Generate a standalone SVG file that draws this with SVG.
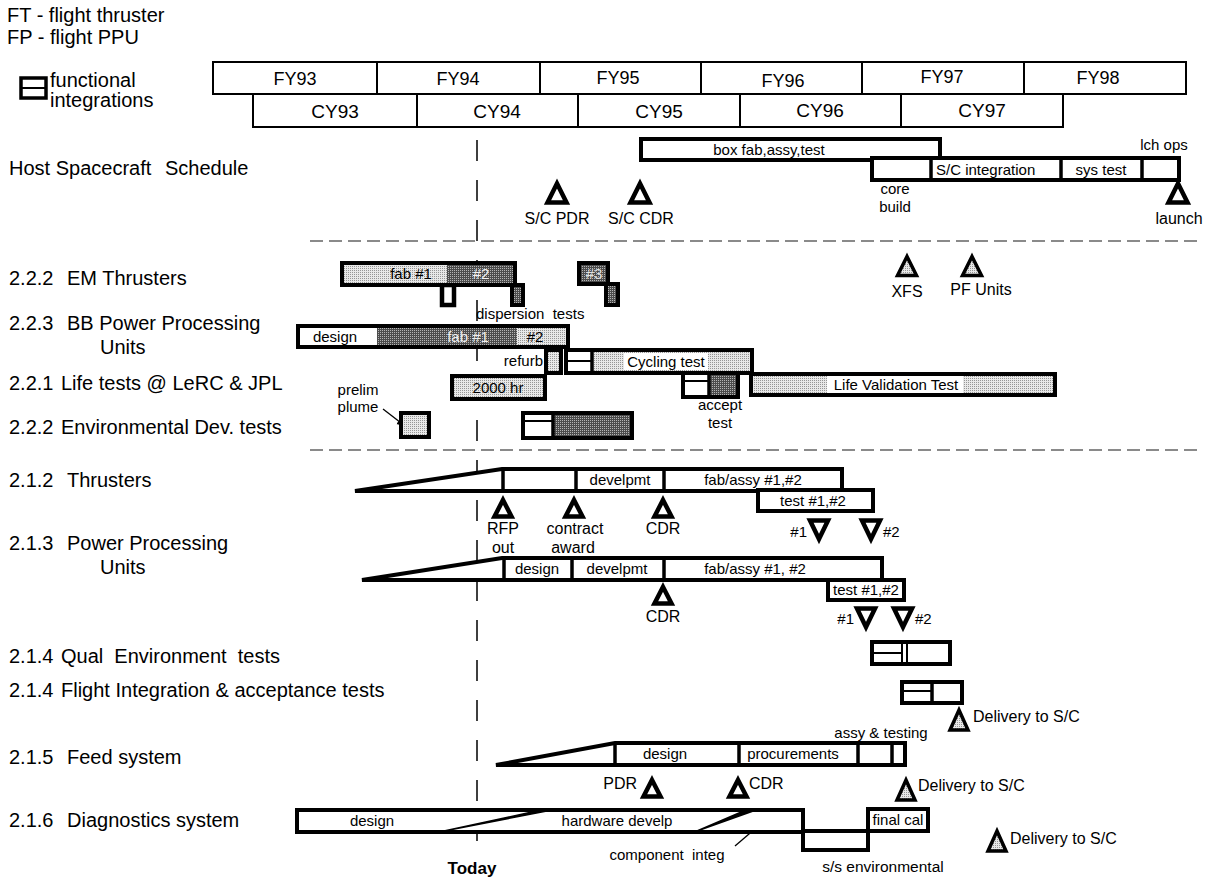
<svg xmlns="http://www.w3.org/2000/svg" width="1205" height="879" viewBox="0 0 1205 879">
<style>
text{font-family:"Liberation Sans",Arial,Helvetica,sans-serif;fill:#000}
.sec{font-size:20px}
.fy{font-size:18px;text-anchor:middle}
.cy{font-size:19px;text-anchor:middle}
.s{font-size:15px}
.n{font-size:16px}
.m{text-anchor:middle}
.e{text-anchor:end}
.yr{fill:#fff;stroke:#000;stroke-width:2}
.bx{fill:#fff;stroke:#000;stroke-width:4;stroke-linejoin:miter}
.ol{fill:none;stroke:#000;stroke-width:4}
.dv{stroke:#000;stroke-width:3.5}
.ln{stroke:#000;stroke-width:2}
.lt{fill:url(#lite)}
.dk{fill:url(#dark)}
.sep{stroke:#8a8a8a;stroke-width:2;stroke-dasharray:13 6}
.today{stroke:#000;stroke-width:1.5;stroke-dasharray:21 19}
.tri{fill:#fff;stroke:#000;stroke-width:4.5}
.trig{fill:url(#lite);stroke:#000;stroke-width:3.5}
.arw{stroke:#000;stroke-width:1.3;fill:none;marker-end:url(#ah)}
.slant{fill:#000;stroke:#000;stroke-width:1.5;stroke-linejoin:round}
</style>
<defs>
  <pattern id="lite" width="2" height="2" patternUnits="userSpaceOnUse">
    <rect width="2" height="2" fill="#e8e8e8"/>
    <rect width="1" height="1" fill="#959595"/>
  </pattern>
  <pattern id="dark" width="2" height="2" patternUnits="userSpaceOnUse">
    <rect width="2" height="2" fill="#4c4c4c"/>
    <rect width="1" height="1" fill="#b4b4b4"/>
  </pattern>
  <!-- milestone markers -->
  <path id="upL" d="M0,-9.5 L9.5,9.5 L-9.5,9.5 Z"/>
  <path id="up" d="M0,-8 L8.5,8.5 L-8.5,8.5 Z"/>
  <path id="dn" d="M0,10 L9,-8.5 L-9,-8.5 Z"/>
  <path id="upD" d="M0,-10 L9,10 L-9,10 Z"/>
  <marker id="ah" viewBox="0 0 10 10" refX="9" refY="5" markerWidth="9" markerHeight="9" orient="auto" markerUnits="userSpaceOnUse">
    <path d="M0,1 L10,5 L0,9 Z" fill="#000"/>
  </marker>
</defs>

<!-- legend -->
<g id="legend">
  <text class="sec" x="7" y="22">FT - flight thruster</text>
  <text class="sec" x="7" y="44">FP - flight PPU</text>
  <rect x="21" y="78" width="25" height="20" fill="#fff" stroke="#000" stroke-width="3.5"/>
  <line class="ln" x1="21" y1="88" x2="46" y2="88"/>
  <text class="sec" x="50" y="87">functional</text>
  <text class="sec" x="50" y="107">integrations</text>
</g>

<!-- fiscal / calendar year header -->
<g id="fiscal-years">
  <rect class="yr" x="213" y="62" width="164" height="32"/>
  <rect class="yr" x="377" y="62" width="163" height="32"/>
  <rect class="yr" x="540" y="62" width="161" height="32"/>
  <rect class="yr" x="701" y="62" width="161" height="32"/>
  <rect class="yr" x="862" y="62" width="162" height="32"/>
  <rect class="yr" x="1024" y="62" width="162" height="32"/>
  <text class="fy" x="295" y="85">FY93</text>
  <text class="fy" x="458" y="85">FY94</text>
  <text class="fy" x="618" y="84">FY95</text>
  <text class="fy" x="783" y="87">FY96</text>
  <text class="fy" x="942" y="83">FY97</text>
  <text class="fy" x="1098" y="84">FY98</text>
</g>
<g id="calendar-years">
  <rect class="yr" x="253" y="94" width="164" height="33"/>
  <rect class="yr" x="417" y="94" width="161" height="33"/>
  <rect class="yr" x="578" y="94" width="162" height="33"/>
  <rect class="yr" x="740" y="94" width="161" height="33"/>
  <rect class="yr" x="901" y="94" width="162" height="33"/>
  <text class="cy" x="335" y="118">CY93</text>
  <text class="cy" x="497" y="118">CY94</text>
  <text class="cy" x="659" y="118">CY95</text>
  <text class="cy" x="820" y="117">CY96</text>
  <text class="cy" x="982" y="117">CY97</text>
</g>

<!-- section separators, "today" marker and pointer arrows -->
<g id="connectors">
  <line class="sep" x1="310" y1="241" x2="1200" y2="241"/>
  <line class="sep" x1="310" y1="450" x2="1200" y2="450"/>
  <line class="today" x1="477" y1="140" x2="477" y2="842"/>
  <line class="arw" x1="383" y1="409" x2="405" y2="426"/>
  <line class="arw" x1="735" y1="846" x2="770" y2="816"/>
  <line class="arw" x1="832" y1="849" x2="819" y2="833"/>
</g>
<text x="472" y="874" font-size="17" font-weight="bold" text-anchor="middle">Today</text>

<!-- host spacecraft -->
<g id="host-spacecraft">
  <text class="sec" y="175"><tspan x="9">Host Spacecraft</tspan><tspan x="165">Schedule</tspan></text>
  <rect class="bx" x="641" y="139" width="299" height="21"/>
  <text class="s m" x="769" y="155">box fab,assy,test</text>
  <rect class="bx" x="872" y="158" width="307" height="22"/>
  <line class="dv" x1="931" y1="158" x2="931" y2="180"/>
  <line class="dv" x1="1061" y1="158" x2="1061" y2="180"/>
  <line class="dv" x1="1142" y1="158" x2="1142" y2="180"/>
  <text class="s" x="936" y="175">S/C integration</text>
  <text class="s m" x="1101" y="175">sys test</text>
  <text class="s m" x="1164" y="150">lch ops</text>
  <text class="s m" x="895" y="194">core</text>
  <text class="s m" x="895" y="212">build</text>
  <use href="#upL" class="tri" x="557" y="193"/>
  <use href="#upL" class="tri" x="640" y="193"/>
  <use href="#upL" class="tri" x="1178" y="193"/>
  <text class="n m" x="557" y="224">S/C PDR</text>
  <text class="n m" x="641" y="224">S/C CDR</text>
  <text class="n m" x="1179" y="224">launch</text>
</g>

<!-- 2.2.2 EM thrusters -->
<g id="em-thrusters">
  <text class="sec" y="285"><tspan x="9">2.2.2</tspan><tspan x="67">EM Thrusters</tspan></text>
  <rect x="442" y="285" width="12" height="20" fill="#fff" stroke="#000" stroke-width="4.5"/>
  <rect x="512" y="285" width="11" height="20" class="dk" stroke="#000" stroke-width="4"/>
  <rect x="342" y="263" width="105" height="22" class="lt"/>
  <rect x="447" y="263" width="68" height="22" class="dk"/>
  <rect class="ol" x="342" y="263" width="173" height="22"/>
  <text class="s m" x="411" y="279">fab #1</text>
  <text class="s m" x="481" y="279" style="fill:#f2f2f2">#2</text>
  <rect x="606" y="284" width="12" height="21" class="dk" stroke="#000" stroke-width="4"/>
  <rect x="579" y="263" width="29" height="21" class="dk" stroke="#000" stroke-width="4"/>
  <text class="s m" x="594" y="279" style="fill:#e0e0e0">#3</text>
  <text class="s" x="476" y="319" xml:space="preserve">dispersion  tests</text>
  <use href="#upL" class="trig" x="907" y="266"/>
  <use href="#upL" class="trig" x="972" y="266"/>
  <text class="n m" x="907" y="297">XFS</text>
  <text class="n m" x="981" y="295">PF Units</text>
</g>

<!-- 2.2.3 BB power processing units -->
<g id="bb-ppu">
  <text class="sec" y="330"><tspan x="9">2.2.3</tspan><tspan x="67">BB Power Processing</tspan></text>
  <text class="sec" x="100" y="354">Units</text>
  <rect x="298" y="326" width="79" height="21" fill="#fff"/>
  <rect x="377" y="326" width="140" height="21" class="dk"/>
  <rect x="517" y="326" width="51" height="21" class="lt"/>
  <rect class="ol" x="298" y="326" width="270" height="21"/>
  <text class="s m" x="335" y="342">design</text>
  <text class="s m" x="468" y="342" style="fill:#eee">fab #1</text>
  <text class="s m" x="535" y="342">#2</text>
  <text class="s e" x="543" y="366">refurb</text>
  <rect x="546" y="350" width="15" height="23" class="lt" stroke="#000" stroke-width="4"/>
  <rect x="566" y="350" width="186" height="23" class="lt"/>
  <rect x="566" y="350" width="26" height="23" fill="#fff"/>
  <rect x="624" y="353" width="84" height="17" fill="#fff"/>
  <line class="ln" x1="566" y1="361" x2="592" y2="361"/>
  <line class="dv" x1="592" y1="350" x2="592" y2="373"/>
  <rect class="ol" x="566" y="350" width="186" height="23"/>
  <text class="s m" x="666" y="367">Cycling test</text>
</g>

<!-- 2.2.1 life tests -->
<g id="life-tests">
  <text class="sec" y="390"><tspan x="9">2.2.1</tspan><tspan x="61">Life tests @ LeRC &amp; JPL</tspan></text>
  <rect x="452" y="376" width="93" height="23" class="lt" stroke="#000" stroke-width="4"/>
  <text class="s m" x="498" y="393">2000 hr</text>
  <rect x="683" y="373" width="55" height="24" class="dk"/>
  <rect x="683" y="373" width="26" height="24" fill="#fff"/>
  <line class="ln" x1="683" y1="381" x2="709" y2="381"/>
  <line class="dv" x1="709" y1="373" x2="709" y2="397"/>
  <rect class="ol" x="683" y="373" width="55" height="24"/>
  <text class="s m" x="720" y="410">accept</text>
  <text class="s m" x="720" y="428">test</text>
  <rect x="751" y="374" width="304" height="21" class="lt"/>
  <rect x="827" y="376" width="136" height="17" fill="#fff"/>
  <rect class="ol" x="751" y="374" width="304" height="21"/>
  <text class="s m" x="896" y="390">Life Validation Test</text>
</g>

<!-- 2.2.2 environmental development tests -->
<g id="env-dev-tests">
  <text class="sec" y="434"><tspan x="9">2.2.2</tspan><tspan x="61">Environmental Dev. tests</tspan></text>
  <text class="s m" x="358" y="395">prelim</text>
  <text class="s m" x="358" y="412">plume</text>
  <rect x="401" y="413" width="28" height="24" class="lt" stroke="#000" stroke-width="4"/>
  <rect x="523" y="413" width="109" height="25" class="dk"/>
  <rect x="523" y="413" width="30" height="25" fill="#fff"/>
  <line class="ln" x1="523" y1="421" x2="553" y2="421"/>
  <line class="dv" x1="553" y1="413" x2="553" y2="438"/>
  <rect class="ol" x="523" y="413" width="109" height="25"/>
</g>

<!-- 2.1.2 thrusters -->
<g id="thrusters">
  <text class="sec" y="487"><tspan x="9">2.1.2</tspan><tspan x="67">Thrusters</tspan></text>
  <path class="bx" d="M355,491 L502,469 L842,469 L842,491 Z"/>
  <line class="dv" x1="503" y1="469" x2="503" y2="491"/>
  <line class="dv" x1="576" y1="469" x2="576" y2="491"/>
  <line class="dv" x1="664" y1="469" x2="664" y2="491"/>
  <text class="s m" x="620" y="485">develpmt</text>
  <text class="s m" x="753" y="485">fab/assy #1,#2</text>
  <rect class="bx" x="758" y="490" width="115" height="21"/>
  <text class="s m" x="813" y="506">test #1,#2</text>
  <use href="#up" class="tri" x="503" y="508"/>
  <use href="#up" class="tri" x="574" y="508"/>
  <use href="#up" class="tri" x="663" y="508"/>
  <text class="n m" x="503" y="534">RFP</text>
  <text class="n m" x="503" y="553">out</text>
  <text class="n m" x="575" y="534">contract</text>
  <text class="n m" x="573" y="553">award</text>
  <text class="n m" x="663" y="534">CDR</text>
  <use href="#dn" class="tri" x="819" y="529"/>
  <use href="#dn" class="tri" x="871" y="529"/>
  <text class="s e" x="807" y="537">#1</text>
  <text class="s" x="883" y="537">#2</text>
</g>

<!-- 2.1.3 power processing units -->
<g id="ppu">
  <text class="sec" y="550"><tspan x="9">2.1.3</tspan><tspan x="67">Power Processing</tspan></text>
  <text class="sec" x="100" y="574">Units</text>
  <path class="bx" d="M362,580 L502,558 L882,558 L882,580 Z"/>
  <line class="dv" x1="504" y1="558" x2="504" y2="580"/>
  <line class="dv" x1="572" y1="558" x2="572" y2="580"/>
  <line class="dv" x1="664" y1="558" x2="664" y2="580"/>
  <text class="s m" x="537" y="574">design</text>
  <text class="s m" x="617" y="574">develpmt</text>
  <text class="s m" x="755" y="574">fab/assy #1, #2</text>
  <rect class="bx" x="828" y="580" width="76" height="20"/>
  <text class="s m" x="866" y="595">test #1,#2</text>
  <use href="#up" class="tri" x="663" y="595"/>
  <text class="n m" x="663" y="622">CDR</text>
  <use href="#dn" class="tri" x="866" y="617"/>
  <use href="#dn" class="tri" x="903" y="617"/>
  <text class="s e" x="854" y="624">#1</text>
  <text class="s" x="915" y="624">#2</text>
</g>

<!-- 2.1.4 qual environment tests -->
<g id="qual-env-tests">
  <text class="sec" y="663"><tspan x="9">2.1.4</tspan><tspan x="61" xml:space="preserve">Qual  Environment  tests</tspan></text>
  <rect class="bx" x="872" y="642" width="78" height="22"/>
  <line class="ln" x1="872" y1="653" x2="902" y2="653"/>
  <line class="ln" x1="902" y1="642" x2="902" y2="664" stroke-width="3"/>
  <line class="ln" x1="907" y1="642" x2="907" y2="664" stroke-width="3"/>
</g>

<!-- 2.1.4 flight integration & acceptance tests -->
<g id="flight-integration">
  <text class="sec" y="697"><tspan x="9">2.1.4</tspan><tspan x="61">Flight Integration &amp; acceptance tests</tspan></text>
  <rect class="bx" x="902" y="682" width="60" height="21"/>
  <line class="ln" x1="902" y1="691" x2="932" y2="691"/>
  <line class="dv" x1="932" y1="682" x2="932" y2="703"/>
  <use href="#upD" class="trig" x="959" y="720"/>
  <text class="n" x="973" y="722">Delivery to S/C</text>
</g>

<!-- 2.1.5 feed system -->
<g id="feed-system">
  <text class="sec" y="764"><tspan x="9">2.1.5</tspan><tspan x="67">Feed system</tspan></text>
  <text class="s m" x="881" y="738">assy &amp; testing</text>
  <path class="bx" d="M496,765 L615,743 L905,743 L905,765 Z"/>
  <line class="dv" x1="615" y1="743" x2="615" y2="765"/>
  <line class="dv" x1="739" y1="743" x2="739" y2="765"/>
  <line class="dv" x1="858" y1="743" x2="858" y2="765"/>
  <line class="dv" x1="892" y1="743" x2="892" y2="765"/>
  <text class="s m" x="665" y="759">design</text>
  <text class="s m" x="793" y="759">procurements</text>
  <use href="#up" class="tri" x="652" y="788"/>
  <use href="#up" class="tri" x="738" y="788"/>
  <text class="n e" x="637" y="789">PDR</text>
  <text class="n" x="749" y="789">CDR</text>
  <use href="#upD" class="trig" x="906" y="790"/>
  <text class="n" x="918" y="791">Delivery to S/C</text>
</g>

<!-- 2.1.6 diagnostics system -->
<g id="diagnostics">
  <text class="sec" y="827"><tspan x="9">2.1.6</tspan><tspan x="67">Diagnostics system</tspan></text>
  <rect class="bx" x="803" y="831" width="65" height="19"/>
  <rect class="bx" x="868" y="809" width="60" height="22"/>
  <rect class="bx" x="297" y="810" width="506" height="22"/>
  <path class="slant" d="M444,831 L552,810 L541,810 Z"/>
  <path class="slant" d="M697,831 L756,810 L746,810 Z"/>
  <text class="s m" x="372" y="826">design</text>
  <text class="s m" x="617" y="826">hardware develp</text>
  <text class="s m" x="898" y="825">final cal</text>
  <text class="s m" x="667" y="860" xml:space="preserve">component  integ</text>
  <text class="m" x="883" y="872" font-size="15.5">s/s environmental</text>
  <use href="#upD" class="trig" x="997" y="841"/>
  <text class="n" x="1010" y="844">Delivery to S/C</text>
</g>
</svg>
